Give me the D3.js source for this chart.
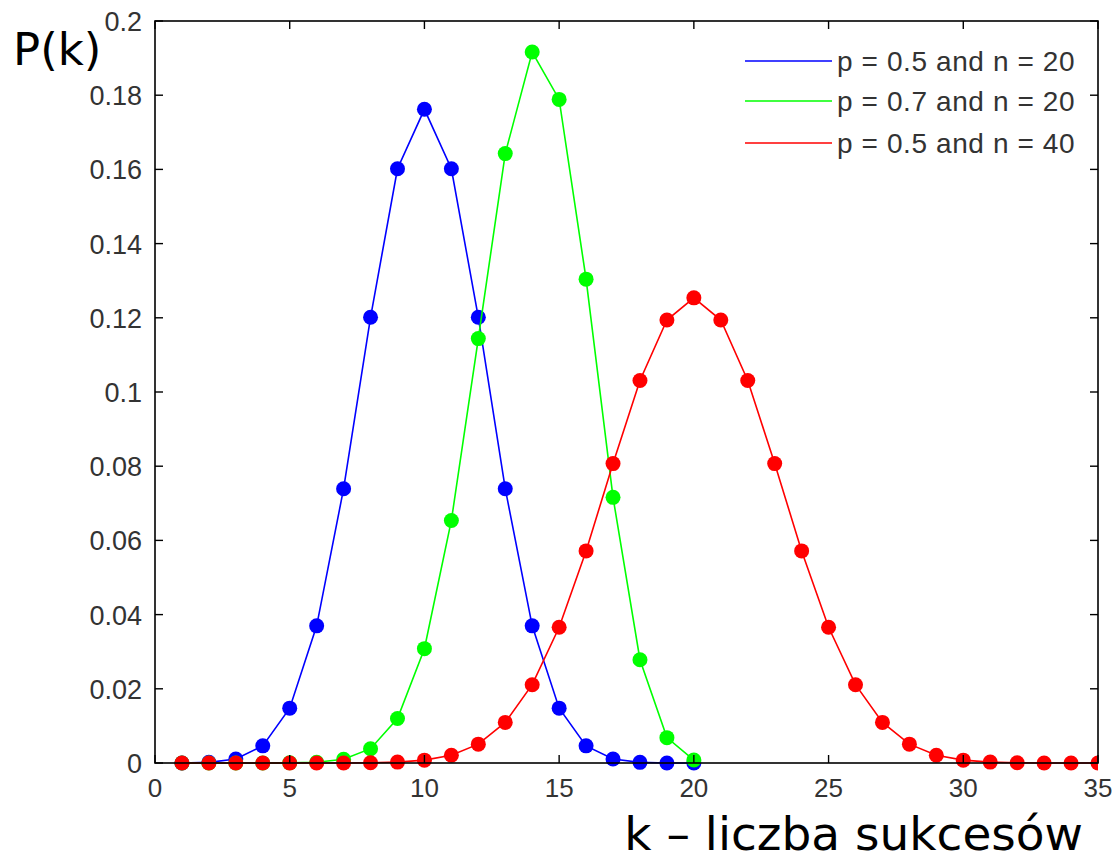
<!DOCTYPE html>
<html>
<head>
<meta charset="utf-8">
<script src="https://cdn.jsdelivr.net/npm/d3@7"></script>
<style>
  html, body { margin: 0; padding: 0; background: #fff; }
  svg { display: block; }
</style>
</head>
<body>
<svg id="chart" width="1112" height="861"></svg>
<script>
// ---- data ----
const kBlue = d3.range(1, 21);
const blueValues = [0.000019, 0.000181, 0.001087, 0.004621, 0.014786, 0.036964, 0.073929, 0.120134, 0.160179, 0.176197,
                    0.160179, 0.120134, 0.073929, 0.036964, 0.014786, 0.004621, 0.001087, 0.000181, 0.000019, 0.000001];
const kGreen = d3.range(1, 21);
const greenValues = [0.0000000, 0.0000000, 0.0000005, 0.000005, 0.000037, 0.000218, 0.001018, 0.003859, 0.011983, 0.030817,
                     0.065370, 0.114397, 0.164262, 0.191639, 0.178863, 0.130421, 0.071604, 0.027846, 0.006839, 0.000798];
const kRed = d3.range(1, 41);
const redValues = [0.0000000, 0.0000000, 0.0000000, 0.0000000, 0.0000006, 0.000004, 0.000017, 0.000070, 0.000249, 0.000771,
                   0.002103, 0.005081, 0.010944, 0.021107, 0.036585, 0.057164, 0.080702, 0.103119, 0.119401, 0.125371,
                   0.119401, 0.103119, 0.080702, 0.057164, 0.036585, 0.021107, 0.010944, 0.005081, 0.002103, 0.000771,
                   0.000249, 0.000070, 0.000017, 0.000004, 0.0000006, 0.0000000, 0.0000000, 0.0000000, 0.0000000, 0.0000000];
const seriesNames = ["p = 0.5 and n = 20", "p = 0.7 and n = 20", "p = 0.5 and n = 40"];
const seriesColors = ["#0000ff", "#00ff00", "#ff0000"];
const xTicks = [0, 5, 10, 15, 20, 25, 30, 35];
const xTickLabels = ["0", "5", "10", "15", "20", "25", "30", "35"];
const yTicks = [0, 0.02, 0.04, 0.06, 0.08, 0.1, 0.12, 0.14, 0.16, 0.18, 0.2];
const yTickLabels = ["0", "0.02", "0.04", "0.06", "0.08", "0.1", "0.12", "0.14", "0.16", "0.18", "0.2"];
const yTitle = "P(k)";
const xTitle = "k \u2013 liczba sukcesów";

// ---- layout ----
const pLeft = 155, pRight = 1098, pTop = 21, pBottom = 763;
const svg = d3.select("#chart");
svg.append("rect").attr("width", 1112).attr("height", 861).attr("fill", "#fff");

const x = d3.scaleLinear().domain([0, 35]).range([pLeft, pRight]);
const y = d3.scaleLinear().domain([0, 0.2]).range([pBottom, pTop]);

svg.append("defs").append("clipPath").attr("id", "plotclip")
  .append("rect").attr("x", pLeft).attr("y", pTop - 10).attr("width", pRight - pLeft).attr("height", pBottom - pTop + 20);

const series = [
  { name: seriesNames[0], color: seriesColors[0], data: kBlue.map((k, i) => [k, blueValues[i]]) },
  { name: seriesNames[1], color: seriesColors[1], data: kGreen.map((k, i) => [k, greenValues[i]]) },
  { name: seriesNames[2], color: seriesColors[2], data: kRed.map((k, i) => [k, redValues[i]]) }
];

const plot = svg.append("g").attr("clip-path", "url(#plotclip)");
const line = d3.line().x(d => x(d[0])).y(d => y(d[1]));
series.forEach(s => {
  const g = plot.append("g");
  g.append("path").datum(s.data).attr("d", line)
    .attr("fill", "none").attr("stroke", s.color).attr("stroke-width", 1.6);
  g.selectAll("circle").data(s.data).join("circle")
    .attr("cx", d => x(d[0])).attr("cy", d => y(d[1])).attr("r", 7.5)
    .attr("fill", s.color);
});

// ---- axes box and ticks ----
const axes = svg.append("g");
axes.append("rect").attr("x", pLeft).attr("y", pTop).attr("width", pRight - pLeft).attr("height", pBottom - pTop)
  .attr("fill", "none").attr("stroke", "#000").attr("stroke-width", 1.6);
const tl = 8;
xTicks.forEach(t => {
  axes.append("line").attr("x1", x(t)).attr("x2", x(t)).attr("y1", pBottom).attr("y2", pBottom - tl).attr("stroke", "#000").attr("stroke-width", 1.4);
  axes.append("line").attr("x1", x(t)).attr("x2", x(t)).attr("y1", pTop).attr("y2", pTop + tl).attr("stroke", "#000").attr("stroke-width", 1.4);
});
yTicks.forEach(t => {
  axes.append("line").attr("x1", pLeft).attr("x2", pLeft + tl).attr("y1", y(t)).attr("y2", y(t)).attr("stroke", "#000").attr("stroke-width", 1.4);
  axes.append("line").attr("x1", pRight).attr("x2", pRight - tl).attr("y1", y(t)).attr("y2", y(t)).attr("stroke", "#000").attr("stroke-width", 1.4);
});

const tickFont = "'Liberation Sans', Arial, sans-serif";
svg.append("g").selectAll("text").data(xTicks).join("text")
  .attr("x", d => x(d)).attr("y", 797)
  .attr("text-anchor", "middle")
  .attr("font-family", tickFont).attr("font-size", 26).attr("fill", "#333")
  .text((d, i) => xTickLabels[i]);
svg.append("g").selectAll("text").data(yTicks).join("text")
  .attr("x", 142).attr("y", d => y(d) + 10)
  .attr("text-anchor", "end")
  .attr("font-family", tickFont).attr("font-size", 27).attr("fill", "#333")
  .text((d, i) => yTickLabels[i]);

// ---- legend ----
const legY = [61, 101, 143];
const legend = svg.append("g");
series.forEach((s, i) => {
  legend.append("line").attr("x1", 745).attr("x2", 832).attr("y1", legY[i]).attr("y2", legY[i])
    .attr("stroke", s.color).attr("stroke-width", 1.6);
  legend.append("text").attr("x", 837).attr("y", legY[i] + 10)
    .attr("font-family", tickFont).attr("font-size", 28).attr("fill", "#333")
    .attr("letter-spacing", 0.6)
    .text(s.name);
});

// ---- titles ----
svg.append("text").attr("x", 13).attr("y", 65)
  .attr("font-family", "'DejaVu Sans', sans-serif").attr("font-size", 45).attr("fill", "#000")
  .text(yTitle);
svg.append("text").attr("x", 1083).attr("y", 850).attr("text-anchor", "end")
  .attr("font-family", "'DejaVu Sans', sans-serif").attr("font-size", 47).attr("fill", "#000")
  .text(xTitle);
</script>
</body>
</html>
